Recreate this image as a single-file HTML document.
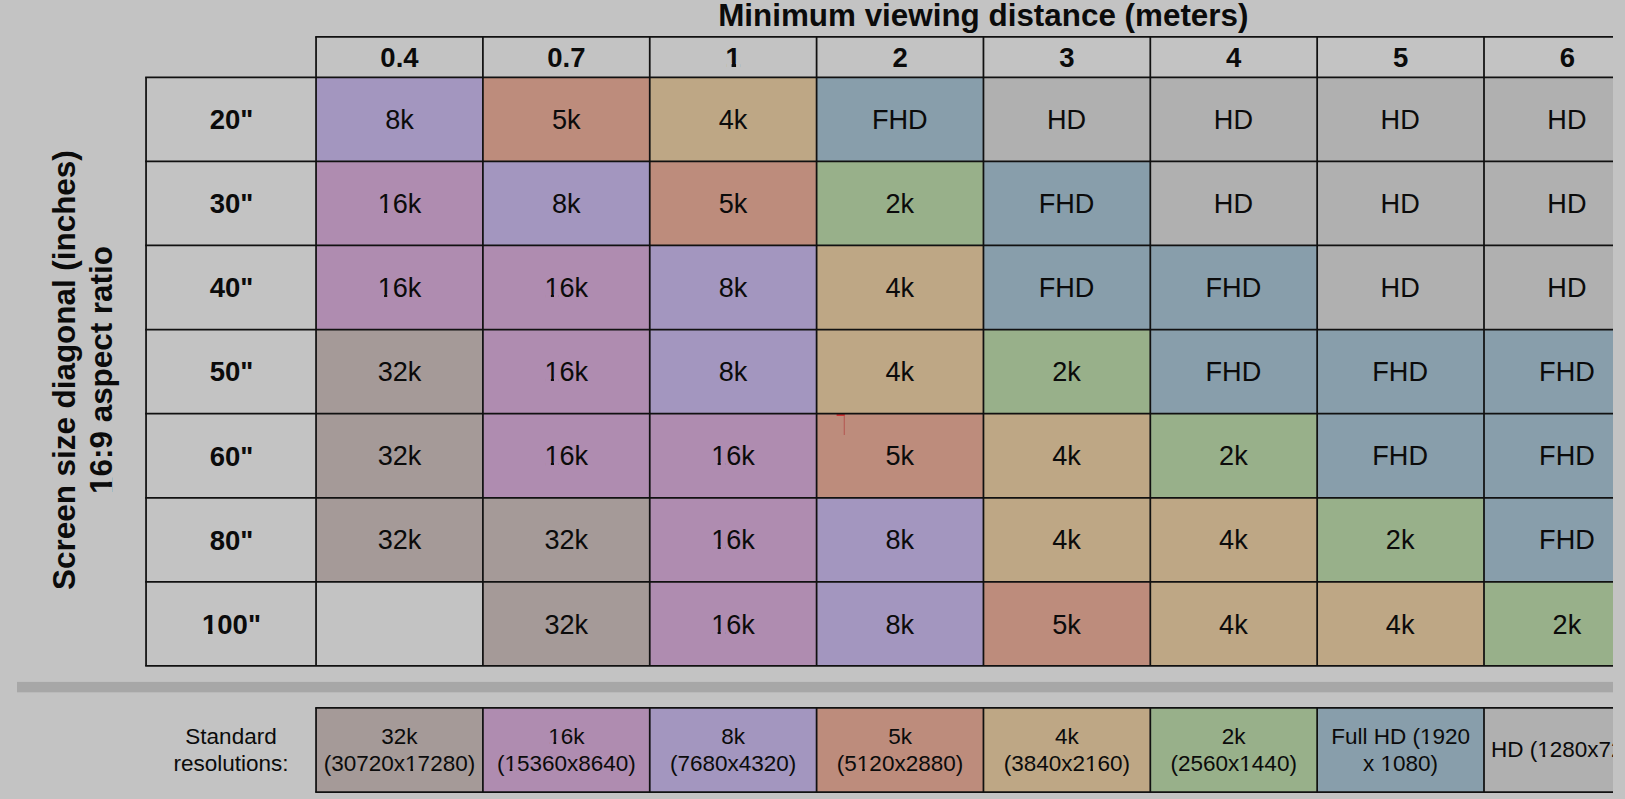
<!DOCTYPE html>
<html lang="en"><head><meta charset="utf-8"><title>Minimum viewing distance</title>
<style>
html,body{margin:0;padding:0;background:#c3c3c3;overflow:hidden}
body{width:1625px;height:799px;position:relative;font-family:"Liberation Sans",Arial,sans-serif}
svg{position:absolute;left:0;top:0;display:block}
text{font-family:"Liberation Sans",Arial,sans-serif;fill:#0b0b0b;text-anchor:middle}
.t{font-size:31.4px;font-weight:bold}
.d{font-size:27.1px}
.h{font-size:27.5px;font-weight:bold}
.l{font-size:22.5px}
.s{text-anchor:start}
</style></head><body>
<svg width="1625" height="799" viewBox="0 0 1625 799">
<defs><clipPath id="c"><rect x="0" y="0" width="1613" height="799"/></clipPath></defs>
<rect x="0" y="0" width="1625" height="799" fill="#c3c3c3"/>
<g clip-path="url(#c)">
<rect x="316.05" y="77.30" width="166.85" height="84.09" fill="#a396bf"/>
<rect x="482.90" y="77.30" width="166.85" height="84.09" fill="#bd8c7c"/>
<rect x="649.75" y="77.30" width="166.85" height="84.09" fill="#bea785"/>
<rect x="816.60" y="77.30" width="166.85" height="84.09" fill="#889eab"/>
<rect x="983.45" y="77.30" width="166.85" height="84.09" fill="#b0b0b0"/>
<rect x="1150.30" y="77.30" width="166.85" height="84.09" fill="#b0b0b0"/>
<rect x="1317.15" y="77.30" width="166.85" height="84.09" fill="#b0b0b0"/>
<rect x="1484.00" y="77.30" width="166.85" height="84.09" fill="#b0b0b0"/>
<rect x="316.05" y="161.39" width="166.85" height="84.09" fill="#af8cb0"/>
<rect x="482.90" y="161.39" width="166.85" height="84.09" fill="#a396bf"/>
<rect x="649.75" y="161.39" width="166.85" height="84.09" fill="#bd8c7c"/>
<rect x="816.60" y="161.39" width="166.85" height="84.09" fill="#98b08a"/>
<rect x="983.45" y="161.39" width="166.85" height="84.09" fill="#889eab"/>
<rect x="1150.30" y="161.39" width="166.85" height="84.09" fill="#b0b0b0"/>
<rect x="1317.15" y="161.39" width="166.85" height="84.09" fill="#b0b0b0"/>
<rect x="1484.00" y="161.39" width="166.85" height="84.09" fill="#b0b0b0"/>
<rect x="316.05" y="245.48" width="166.85" height="84.09" fill="#af8cb0"/>
<rect x="482.90" y="245.48" width="166.85" height="84.09" fill="#af8cb0"/>
<rect x="649.75" y="245.48" width="166.85" height="84.09" fill="#a396bf"/>
<rect x="816.60" y="245.48" width="166.85" height="84.09" fill="#bea785"/>
<rect x="983.45" y="245.48" width="166.85" height="84.09" fill="#889eab"/>
<rect x="1150.30" y="245.48" width="166.85" height="84.09" fill="#889eab"/>
<rect x="1317.15" y="245.48" width="166.85" height="84.09" fill="#b0b0b0"/>
<rect x="1484.00" y="245.48" width="166.85" height="84.09" fill="#b0b0b0"/>
<rect x="316.05" y="329.57" width="166.85" height="84.09" fill="#a59a98"/>
<rect x="482.90" y="329.57" width="166.85" height="84.09" fill="#af8cb0"/>
<rect x="649.75" y="329.57" width="166.85" height="84.09" fill="#a396bf"/>
<rect x="816.60" y="329.57" width="166.85" height="84.09" fill="#bea785"/>
<rect x="983.45" y="329.57" width="166.85" height="84.09" fill="#98b08a"/>
<rect x="1150.30" y="329.57" width="166.85" height="84.09" fill="#889eab"/>
<rect x="1317.15" y="329.57" width="166.85" height="84.09" fill="#889eab"/>
<rect x="1484.00" y="329.57" width="166.85" height="84.09" fill="#889eab"/>
<rect x="316.05" y="413.66" width="166.85" height="84.09" fill="#a59a98"/>
<rect x="482.90" y="413.66" width="166.85" height="84.09" fill="#af8cb0"/>
<rect x="649.75" y="413.66" width="166.85" height="84.09" fill="#af8cb0"/>
<rect x="816.60" y="413.66" width="166.85" height="84.09" fill="#bd8c7c"/>
<rect x="983.45" y="413.66" width="166.85" height="84.09" fill="#bea785"/>
<rect x="1150.30" y="413.66" width="166.85" height="84.09" fill="#98b08a"/>
<rect x="1317.15" y="413.66" width="166.85" height="84.09" fill="#889eab"/>
<rect x="1484.00" y="413.66" width="166.85" height="84.09" fill="#889eab"/>
<rect x="316.05" y="497.75" width="166.85" height="84.09" fill="#a59a98"/>
<rect x="482.90" y="497.75" width="166.85" height="84.09" fill="#a59a98"/>
<rect x="649.75" y="497.75" width="166.85" height="84.09" fill="#af8cb0"/>
<rect x="816.60" y="497.75" width="166.85" height="84.09" fill="#a396bf"/>
<rect x="983.45" y="497.75" width="166.85" height="84.09" fill="#bea785"/>
<rect x="1150.30" y="497.75" width="166.85" height="84.09" fill="#bea785"/>
<rect x="1317.15" y="497.75" width="166.85" height="84.09" fill="#98b08a"/>
<rect x="1484.00" y="497.75" width="166.85" height="84.09" fill="#889eab"/>
<rect x="482.90" y="581.84" width="166.85" height="84.09" fill="#a59a98"/>
<rect x="649.75" y="581.84" width="166.85" height="84.09" fill="#af8cb0"/>
<rect x="816.60" y="581.84" width="166.85" height="84.09" fill="#a396bf"/>
<rect x="983.45" y="581.84" width="166.85" height="84.09" fill="#bd8c7c"/>
<rect x="1150.30" y="581.84" width="166.85" height="84.09" fill="#bea785"/>
<rect x="1317.15" y="581.84" width="166.85" height="84.09" fill="#bea785"/>
<rect x="1484.00" y="581.84" width="166.85" height="84.09" fill="#98b08a"/>
<rect x="316.05" y="707.95" width="166.85" height="84.15" fill="#a59a98"/>
<rect x="482.90" y="707.95" width="166.85" height="84.15" fill="#af8cb0"/>
<rect x="649.75" y="707.95" width="166.85" height="84.15" fill="#a396bf"/>
<rect x="816.60" y="707.95" width="166.85" height="84.15" fill="#bd8c7c"/>
<rect x="983.45" y="707.95" width="166.85" height="84.15" fill="#bea785"/>
<rect x="1150.30" y="707.95" width="166.85" height="84.15" fill="#98b08a"/>
<rect x="1317.15" y="707.95" width="166.85" height="84.15" fill="#889eab"/>
<rect x="1484.00" y="707.95" width="166.85" height="84.15" fill="#b0b0b0"/>
<rect x="17" y="681.9" width="1596" height="10.4" fill="#a7a7a7"/>
<rect x="836.6" y="413" width="8.2" height="3" fill="#cc3333"/><rect x="843.75" y="416" width="1" height="19" fill="#b4544f"/>
<g stroke="#111111" stroke-width="1.75" stroke-linecap="square" fill="none">
<line x1="316.05" y1="36.95" x2="1618.00" y2="36.95"/>
<line x1="146.05" y1="77.30" x2="1618.00" y2="77.30"/>
<line x1="146.05" y1="161.39" x2="1618.00" y2="161.39"/>
<line x1="146.05" y1="245.48" x2="1618.00" y2="245.48"/>
<line x1="146.05" y1="329.57" x2="1618.00" y2="329.57"/>
<line x1="146.05" y1="413.66" x2="1618.00" y2="413.66"/>
<line x1="146.05" y1="497.75" x2="1618.00" y2="497.75"/>
<line x1="146.05" y1="581.84" x2="1618.00" y2="581.84"/>
<line x1="146.05" y1="665.93" x2="1618.00" y2="665.93"/>
<line x1="316.05" y1="707.95" x2="1618.00" y2="707.95"/>
<line x1="316.05" y1="792.10" x2="1618.00" y2="792.10"/>
</g>
<g stroke="#111111" stroke-width="1.75" fill="none">
<line x1="146.05" y1="77.30" x2="146.05" y2="665.93"/>
<line x1="316.05" y1="36.95" x2="316.05" y2="665.93"/>
<line x1="482.90" y1="36.95" x2="482.90" y2="665.93"/>
<line x1="649.75" y1="36.95" x2="649.75" y2="665.93"/>
<line x1="816.60" y1="36.95" x2="816.60" y2="665.93"/>
<line x1="983.45" y1="36.95" x2="983.45" y2="665.93"/>
<line x1="1150.30" y1="36.95" x2="1150.30" y2="665.93"/>
<line x1="1317.15" y1="36.95" x2="1317.15" y2="665.93"/>
<line x1="1484.00" y1="36.95" x2="1484.00" y2="665.93"/>
<line x1="316.05" y1="707.95" x2="316.05" y2="792.10"/>
<line x1="482.90" y1="707.95" x2="482.90" y2="792.10"/>
<line x1="649.75" y1="707.95" x2="649.75" y2="792.10"/>
<line x1="816.60" y1="707.95" x2="816.60" y2="792.10"/>
<line x1="983.45" y1="707.95" x2="983.45" y2="792.10"/>
<line x1="1150.30" y1="707.95" x2="1150.30" y2="792.10"/>
<line x1="1317.15" y1="707.95" x2="1317.15" y2="792.10"/>
<line x1="1484.00" y1="707.95" x2="1484.00" y2="792.10"/>
</g>
<g transform="translate(983.30 26)"><text class="t">Minimum viewing distance (meters)</text></g>
<g transform="translate(399.48 67)"><text class="h">0.4</text></g>
<g transform="translate(566.32 67)"><text class="h">0.7</text></g>
<g transform="translate(733.17 67)"><text class="h">1</text><rect x="-6.62" y="-3.91" width="5.04" height="4.61" fill="#c3c3c3"/><rect x="2.89" y="-3.91" width="4.69" height="4.61" fill="#c3c3c3"/></g>
<g transform="translate(900.02 67)"><text class="h">2</text></g>
<g transform="translate(1066.88 67)"><text class="h">3</text></g>
<g transform="translate(1233.72 67)"><text class="h">4</text></g>
<g transform="translate(1400.57 67)"><text class="h">5</text></g>
<g transform="translate(1567.42 67)"><text class="h">6</text></g>
<g transform="translate(231.45 129)"><text class="h">20&quot;</text></g>
<g transform="translate(231.45 213)"><text class="h">30&quot;</text></g>
<g transform="translate(231.45 297)"><text class="h">40&quot;</text></g>
<g transform="translate(231.45 381)"><text class="h">50&quot;</text></g>
<g transform="translate(231.45 466)"><text class="h">60&quot;</text></g>
<g transform="translate(231.45 550)"><text class="h">80&quot;</text></g>
<g transform="translate(231.45 634)"><text class="h">100&quot;</text><rect x="-28.43" y="-3.91" width="5.04" height="4.61" fill="#c3c3c3"/><rect x="-18.92" y="-3.91" width="4.69" height="4.61" fill="#c3c3c3"/></g>
<g transform="translate(399.48 129)"><text class="d">8k</text></g>
<g transform="translate(566.25 129)"><text class="d">5k</text></g>
<g transform="translate(733.03 129)"><text class="d">4k</text></g>
<g transform="translate(899.81 129)"><text class="d">FHD</text></g>
<g transform="translate(1066.60 129)"><text class="d">HD</text></g>
<g transform="translate(1233.38 129)"><text class="d">HD</text></g>
<g transform="translate(1400.15 129)"><text class="d">HD</text></g>
<g transform="translate(1566.93 129)"><text class="d">HD</text></g>
<g transform="translate(399.48 213)"><text class="d">16k</text><rect x="-20.48" y="-3.12" width="5.10" height="3.82" fill="#af8cb0"/><rect x="-12.28" y="-3.12" width="4.89" height="3.82" fill="#af8cb0"/></g>
<g transform="translate(566.25 213)"><text class="d">8k</text></g>
<g transform="translate(733.03 213)"><text class="d">5k</text></g>
<g transform="translate(899.81 213)"><text class="d">2k</text></g>
<g transform="translate(1066.60 213)"><text class="d">FHD</text></g>
<g transform="translate(1233.38 213)"><text class="d">HD</text></g>
<g transform="translate(1400.15 213)"><text class="d">HD</text></g>
<g transform="translate(1566.93 213)"><text class="d">HD</text></g>
<g transform="translate(399.48 297)"><text class="d">16k</text><rect x="-20.48" y="-3.12" width="5.10" height="3.82" fill="#af8cb0"/><rect x="-12.28" y="-3.12" width="4.89" height="3.82" fill="#af8cb0"/></g>
<g transform="translate(566.25 297)"><text class="d">16k</text><rect x="-20.48" y="-3.12" width="5.10" height="3.82" fill="#af8cb0"/><rect x="-12.28" y="-3.12" width="4.89" height="3.82" fill="#af8cb0"/></g>
<g transform="translate(733.03 297)"><text class="d">8k</text></g>
<g transform="translate(899.81 297)"><text class="d">4k</text></g>
<g transform="translate(1066.60 297)"><text class="d">FHD</text></g>
<g transform="translate(1233.38 297)"><text class="d">FHD</text></g>
<g transform="translate(1400.15 297)"><text class="d">HD</text></g>
<g transform="translate(1566.93 297)"><text class="d">HD</text></g>
<g transform="translate(399.48 381)"><text class="d">32k</text></g>
<g transform="translate(566.25 381)"><text class="d">16k</text><rect x="-20.48" y="-3.12" width="5.10" height="3.82" fill="#af8cb0"/><rect x="-12.28" y="-3.12" width="4.89" height="3.82" fill="#af8cb0"/></g>
<g transform="translate(733.03 381)"><text class="d">8k</text></g>
<g transform="translate(899.81 381)"><text class="d">4k</text></g>
<g transform="translate(1066.60 381)"><text class="d">2k</text></g>
<g transform="translate(1233.38 381)"><text class="d">FHD</text></g>
<g transform="translate(1400.15 381)"><text class="d">FHD</text></g>
<g transform="translate(1566.93 381)"><text class="d">FHD</text></g>
<g transform="translate(399.48 465)"><text class="d">32k</text></g>
<g transform="translate(566.25 465)"><text class="d">16k</text><rect x="-20.48" y="-3.12" width="5.10" height="3.82" fill="#af8cb0"/><rect x="-12.28" y="-3.12" width="4.89" height="3.82" fill="#af8cb0"/></g>
<g transform="translate(733.03 465)"><text class="d">16k</text><rect x="-20.48" y="-3.12" width="5.10" height="3.82" fill="#af8cb0"/><rect x="-12.28" y="-3.12" width="4.89" height="3.82" fill="#af8cb0"/></g>
<g transform="translate(899.81 465)"><text class="d">5k</text></g>
<g transform="translate(1066.60 465)"><text class="d">4k</text></g>
<g transform="translate(1233.38 465)"><text class="d">2k</text></g>
<g transform="translate(1400.15 465)"><text class="d">FHD</text></g>
<g transform="translate(1566.93 465)"><text class="d">FHD</text></g>
<g transform="translate(399.48 549)"><text class="d">32k</text></g>
<g transform="translate(566.25 549)"><text class="d">32k</text></g>
<g transform="translate(733.03 549)"><text class="d">16k</text><rect x="-20.48" y="-3.12" width="5.10" height="3.82" fill="#af8cb0"/><rect x="-12.28" y="-3.12" width="4.89" height="3.82" fill="#af8cb0"/></g>
<g transform="translate(899.81 549)"><text class="d">8k</text></g>
<g transform="translate(1066.60 549)"><text class="d">4k</text></g>
<g transform="translate(1233.38 549)"><text class="d">4k</text></g>
<g transform="translate(1400.15 549)"><text class="d">2k</text></g>
<g transform="translate(1566.93 549)"><text class="d">FHD</text></g>
<g transform="translate(566.25 634)"><text class="d">32k</text></g>
<g transform="translate(733.03 634)"><text class="d">16k</text><rect x="-20.48" y="-3.12" width="5.10" height="3.82" fill="#af8cb0"/><rect x="-12.28" y="-3.12" width="4.89" height="3.82" fill="#af8cb0"/></g>
<g transform="translate(899.81 634)"><text class="d">8k</text></g>
<g transform="translate(1066.60 634)"><text class="d">5k</text></g>
<g transform="translate(1233.38 634)"><text class="d">4k</text></g>
<g transform="translate(1400.15 634)"><text class="d">4k</text></g>
<g transform="translate(1566.93 634)"><text class="d">2k</text></g>
<g transform="translate(231.00 744)"><text class="l">Standard</text></g>
<g transform="translate(231.00 771)"><text class="l">resolutions:</text></g>
<g transform="translate(399.48 744)"><text class="l">32k</text></g>
<g transform="translate(399.48 771)"><text class="l">(30720x17280)</text><rect x="6.62" y="-2.78" width="4.29" height="3.48" fill="#a59a98"/><rect x="13.61" y="-2.78" width="4.12" height="3.48" fill="#a59a98"/></g>
<g transform="translate(566.32 744)"><text class="l">16k</text><rect x="-17.13" y="-2.78" width="4.29" height="3.48" fill="#af8cb0"/><rect x="-10.14" y="-2.78" width="4.12" height="3.48" fill="#af8cb0"/></g>
<g transform="translate(566.32 771)"><text class="l">(15360x8640)</text><rect x="-60.93" y="-2.78" width="4.29" height="3.48" fill="#af8cb0"/><rect x="-53.95" y="-2.78" width="4.12" height="3.48" fill="#af8cb0"/></g>
<g transform="translate(733.17 744)"><text class="l">8k</text></g>
<g transform="translate(733.17 771)"><text class="l">(7680x4320)</text></g>
<g transform="translate(900.02 744)"><text class="l">5k</text></g>
<g transform="translate(900.02 771)"><text class="l">(5120x2880)</text><rect x="-42.16" y="-2.78" width="4.29" height="3.48" fill="#bd8c7c"/><rect x="-35.18" y="-2.78" width="4.12" height="3.48" fill="#bd8c7c"/></g>
<g transform="translate(1066.88 744)"><text class="l">4k</text></g>
<g transform="translate(1066.88 771)"><text class="l">(3840x2160)</text><rect x="19.14" y="-2.78" width="4.29" height="3.48" fill="#bea785"/><rect x="26.12" y="-2.78" width="4.12" height="3.48" fill="#bea785"/></g>
<g transform="translate(1233.72 744)"><text class="l">2k</text></g>
<g transform="translate(1233.72 771)"><text class="l">(2560x1440)</text><rect x="6.62" y="-2.78" width="4.29" height="3.48" fill="#98b08a"/><rect x="13.61" y="-2.78" width="4.12" height="3.48" fill="#98b08a"/></g>
<g transform="translate(1400.57 744)"><text class="l">Full HD (1920</text><rect x="20.34" y="-2.78" width="4.29" height="3.48" fill="#889eab"/><rect x="27.32" y="-2.78" width="4.12" height="3.48" fill="#889eab"/></g>
<g transform="translate(1400.57 771)"><text class="l">x 1080)</text><rect x="-19.02" y="-2.78" width="4.29" height="3.48" fill="#889eab"/><rect x="-12.03" y="-2.78" width="4.12" height="3.48" fill="#889eab"/></g>
<g transform="translate(1491.00 757)"><text class="l s">HD (1280x720)</text><rect x="47.25" y="-2.78" width="4.29" height="3.48" fill="#b0b0b0"/><rect x="54.23" y="-2.78" width="4.12" height="3.48" fill="#b0b0b0"/></g>
<g transform="translate(74.80 370.10) rotate(-90)"><text class="t">Screen size diagonal (inches)</text></g>
<g transform="translate(111.75 370.00) rotate(-90)"><text class="t">16:9 aspect ratio</text><rect x="-122.60" y="-4.30" width="5.70" height="5.00" fill="#c3c3c3"/><rect x="-111.90" y="-4.30" width="5.30" height="5.00" fill="#c3c3c3"/></g>
</g></svg></body></html>
